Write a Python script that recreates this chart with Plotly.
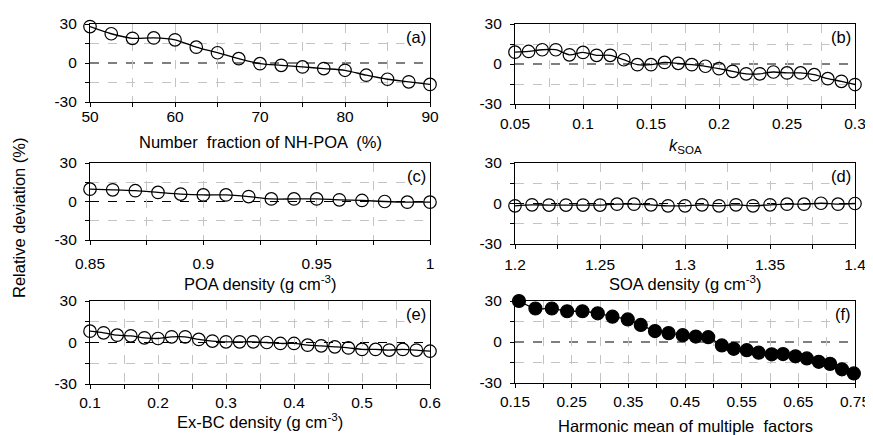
import plotly.graph_objects as go

# ---------------- data ----------------
a_x = [50, 52.5, 55, 57.5, 60, 62.5, 65, 67.5, 70, 72.5, 75, 77.5, 80, 82.5, 85, 87.5, 90]
a_y = [28, 22.5, 19, 19.3, 17.8, 12.2, 7.9, 3.3, -0.5, -1.8, -3, -4.3, -5.6, -9.4, -12.5, -14.5, -16.5]

b_x = [0.05, 0.06, 0.07, 0.08, 0.09, 0.10, 0.11, 0.12, 0.13, 0.14, 0.15, 0.16, 0.17,
       0.18, 0.19, 0.20, 0.21, 0.22, 0.23, 0.24, 0.25, 0.26, 0.27, 0.28, 0.29, 0.30]
b_y = [8.9, 9.4, 10.7, 10.7, 6.9, 8.7, 6.5, 6.5, 3.2, -0.5, -0.5, 1.2, 0.5,
       -0.5, -1.7, -3.5, -5.5, -7.4, -7.4, -6, -6.7, -6.7, -8, -11, -13, -15.4]

c_x = [0.85, 0.86, 0.87, 0.88, 0.89, 0.90, 0.91, 0.92, 0.93, 0.94, 0.95, 0.96, 0.97, 0.98, 0.99, 1.00]
c_y = [9.6, 9.1, 8.4, 7.1, 5.8, 5.1, 5.1, 3.8, 2, 2, 2, 1.3, 0.8, 0, -0.5, -0.5]

d_x = [1.20, 1.21, 1.22, 1.23, 1.24, 1.25, 1.26, 1.27, 1.28, 1.29, 1.30,
       1.31, 1.32, 1.33, 1.34, 1.35, 1.36, 1.37, 1.38, 1.39, 1.40]
d_y = [-1.7, -1, -1.2, -1.2, -1.2, -1.2, -0.5, -0.5, -1, -1.7, -1.7,
       -1, -1.7, -1, -1.7, -1, -0.5, -0.5, 0.2, -0.5, 0]

e_x = [0.10, 0.12, 0.14, 0.16, 0.18, 0.20, 0.22, 0.24, 0.26, 0.28, 0.30, 0.32, 0.34,
       0.36, 0.38, 0.40, 0.42, 0.44, 0.46, 0.48, 0.50, 0.52, 0.54, 0.56, 0.58, 0.60]
e_y = [8.2, 7, 5.3, 4.8, 3.4, 2.9, 4.1, 4.1, 2.2, 1, 0.5, 0.5, 0.5,
       0, -0.7, -0.7, -1.9, -2.4, -3.1, -3.9, -5, -5, -5.5, -5, -5.5, -6.3]

f_x = [0.157, 0.186, 0.215, 0.242, 0.269, 0.296, 0.322, 0.349, 0.372, 0.397, 0.421, 0.446, 0.469,
       0.491, 0.515, 0.536, 0.559, 0.580, 0.603, 0.623, 0.645, 0.665, 0.686, 0.706, 0.727, 0.748]
f_y = [30, 24.5, 24.5, 22.5, 22.5, 21, 18.5, 16.5, 12.5, 8, 6.5, 5, 4,
       3.5, -2.5, -5, -6, -7.8, -9, -8.8, -10.5, -12, -14.5, -16, -20, -23]

panel_labels = ["(a)", "(b)", "(c)", "(d)", "(e)", "(f)"]
x_titles = ["Number  fraction of NH-POA  (%)", "<i>k</i><sub>SOA</sub>",
            "POA density (g cm<sup>-3</sup>)", "SOA density (g cm<sup>-3</sup>)",
            "Ex-BC density (g cm<sup>-3</sup>)", "Harmonic mean of multiple  factors"]
y_title = "Relative deviation (%)"
y_ticks = [-30, 0, 30]
y_ticktext = ["-30", "0", "30"]
y_minor = [-15, 15]

# ---------------- layout geometry (page pixels) ----------------
OFF = 8                      # page body margin
W, H = 873 - OFF, 435 - OFF  # figure size


def px(x):
    return (x - OFF) / W


def py(y):
    return 1 - (y - OFF) / H


boxes = [  # x0, x1, ytop, ybottom
    (90, 430, 24, 102),
    (515, 855, 24, 104),
    (90, 430, 163, 240),
    (515, 855, 163, 244),
    (90, 430, 301, 384),
    (515, 855, 301, 383),
]
title_y = [142, 146, 283, 283, 421, 426]
x_ranges = [[50, 90], [0.05, 0.3], [0.85, 1.0], [1.2, 1.4], [0.1, 0.6], [0.15, 0.75]]
x_dtick = [10, 0.05, 0.05, 0.05, 0.1, 0.1]
x_tick0 = [50, 0.05, 0.85, 1.2, 0.1, 0.15]
label_standoff = [-4, 1, 5, 2, 0, 0]

series = [(a_x, a_y), (b_x, b_y), (c_x, c_y), (d_x, d_y), (e_x, e_y), (f_x, f_y)]

FONT = "Arial, Liberation Sans, sans-serif"
GRID = "#c4c4c4"
TICK_SIZE = 15.5
TITLE_SIZE = 16.5

fig = go.Figure()
layout = dict(width=W, height=H, margin=dict(l=0, r=0, t=0, b=0, autoexpand=False),
              paper_bgcolor="white", plot_bgcolor="white",
              font=dict(family=FONT, size=TICK_SIZE, color="black"),
              showlegend=False, shapes=[], annotations=[])

for i, (xs, ys) in enumerate(series):
    k = "" if i == 0 else str(i + 1)
    x0, x1, yt, yb = boxes[i]
    filled = (i == 5)
    fig.add_trace(go.Scatter(
        x=xs, y=ys, xaxis="x" + k, yaxis="y" + k, mode="lines+markers",
        line=dict(color="black", width=1.3, shape="spline", smoothing=0.8),
        marker=dict(symbol="circle" if filled else "circle-open", size=13 if filled else 12.5,
                    color="black", line=dict(color="black", width=1.2)),
        cliponaxis=False))
    layout["xaxis" + k] = dict(
        domain=[px(x0), px(x1)], anchor="y" + k, range=x_ranges[i], automargin=False,
        tick0=x_tick0[i], dtick=x_dtick[i], ticks="outside", ticklen=4, tickcolor="black",
        showline=True, linecolor="black", linewidth=1.2, mirror=True,
        showgrid=True, gridcolor=GRID, griddash="dash", gridwidth=1, zeroline=False,
        minor=dict(dtick=x_dtick[i] / 2, tick0=x_tick0[i], ticks="outside", ticklen=4, tickcolor="black",
                   showgrid=True, gridcolor=GRID, griddash="dash", gridwidth=1),
        ticklabelstandoff=label_standoff[i],
        tickfont=dict(size=TICK_SIZE))
    layout["yaxis" + k] = dict(
        domain=[py(yb), py(yt)], anchor="x" + k, range=[-30, 30], automargin=False,
        tickvals=y_ticks, ticktext=y_ticktext, ticks="outside", ticklen=4, tickcolor="black",
        showline=True, linecolor="black", linewidth=1.2, mirror=True,
        showgrid=False, zeroline=False,
        minor=dict(tickvals=y_minor, ticks="outside", ticklen=4, tickcolor="black",
                   showgrid=True, gridcolor=GRID, griddash="dash", gridwidth=1),
        ticklabelstandoff=5, tickfont=dict(size=TICK_SIZE))
    layout["shapes"].append(dict(type="line", xref="x" + k + " domain", yref="y" + k,
                                 x0=0, x1=1, y0=0, y1=0,
                                 line=dict(color="black", width=1.2, dash="dash"), layer="below"))
    layout["annotations"].append(dict(text=panel_labels[i], xref="x" + k + " domain", yref="y" + k + " domain",
                                      x=0.995, y=0.98, xanchor="right", yanchor="top", showarrow=False,
                                      font=dict(size=TITLE_SIZE), bgcolor="white"))
    # x-axis title
    layout["annotations"].append(dict(text=x_titles[i], xref="paper", yref="paper",
                                      x=px((x0 + x1) / 2), y=py(title_y[i]),
                                      xanchor="center", yanchor="middle", showarrow=False,
                                      font=dict(size=TITLE_SIZE)))

layout["annotations"].append(dict(text=y_title, xref="paper", yref="paper", x=px(19), y=py(218),
                                  textangle=-90, showarrow=False, font=dict(size=TITLE_SIZE),
                                  xanchor="center", yanchor="middle"))
fig.update_layout(**layout)
fig.write_html("out.html")
